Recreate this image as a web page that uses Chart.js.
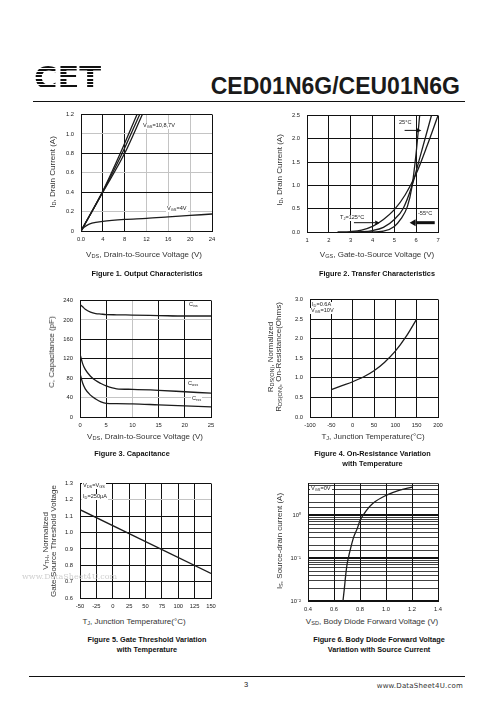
<!DOCTYPE html>
<html lang="en">
<head>
<meta charset="UTF-8">
<title>CED01N6G/CEU01N6G</title>
<script src="https://cdn.jsdelivr.net/npm/chart.js"></script>
<style>
  * { margin: 0; padding: 0; box-sizing: border-box; }
  html, body { width: 496px; height: 723px; background: #fff; overflow: hidden;
    font-family: 'Liberation Sans', Arial, sans-serif; color: #222; }
  .page { position: relative; width: 496px; height: 723px; }
  canvas { position: absolute; }
  .t { position: absolute; white-space: nowrap; line-height: 1; }
  .logo { left: 34px; top: 59px; font: bold 32px 'DejaVu Sans', sans-serif; color: transparent;
    background: repeating-linear-gradient(to bottom, #111 0 2px, transparent 2px 3.3px);
    -webkit-background-clip: text; background-clip: text; transform: scaleX(1.0); transform-origin: left top; }
  .title { right: 36px; top: 75px; font-size: 23px; font-weight: bold; color: #1a1a1a; }
  .rule { position: absolute; background: #111; }
  .xt { font-size: 8px; color: #333; transform: translate(-50%, -50%); }
  .yt { font-size: 8px; color: #333; transform: translate(-50%, -50%) rotate(-90deg); text-align: center; line-height: 8px; }
  .cap { font-size: 7.3px; font-weight: bold; color: #111; transform: translateX(-50%); text-align: center; line-height: 9.3px; }
  .note { font-size: 5.6px; background: #fff; padding: 0 1px; color: #222; }
  sub { font-size: 70%; vertical-align: -0.25em; line-height: 0; }
  .wm { font: 8px 'DejaVu Serif', serif; color: #cfcfcf; }
</style>
</head>
<body>
<div class="page">
  <div class="t logo">CET</div>
  <div class="t title">CED01N6G/CEU01N6G</div>
  <div class="rule" style="left:33px; top:100.5px; width:432px; height:1.3px"></div>

  <canvas id="fig1"></canvas>
  <canvas id="fig2"></canvas>
  <canvas id="fig3"></canvas>
  <canvas id="fig4"></canvas>
  <canvas id="fig5"></canvas>
  <canvas id="fig6"></canvas>

  <!-- Figure 1 -->
  <div class="t note" style="left:142px; top:123px">V<sub>GS</sub>=10,8,7V</div>
  <div class="t note" style="left:166px; top:206px">V<sub>GS</sub>=4V</div>
  <div class="t yt" style="left:53px; top:172px">I<sub>D</sub>, Drain Current (A)</div>
  <div class="t xt" style="left:144px; top:255px">V<sub>DS</sub>, Drain-to-Source Voltage (V)</div>
  <div class="t cap" style="left:147px; top:268.6px">Figure 1. Output Characteristics</div>

  <!-- Figure 2 -->
  <div class="t note" style="left:398px; top:119.5px">25°C</div>
  <div class="t note" style="left:339px; top:215px">T<sub>J</sub>=125°C</div>
  <div class="t note" style="left:417px; top:211px">-55°C</div>
  <div class="t yt" style="left:280px; top:170px">I<sub>D</sub>, Drain Current (A)</div>
  <div class="t xt" style="left:377px; top:255px">V<sub>GS</sub>, Gate-to-Source Voltage (V)</div>
  <div class="t cap" style="left:377px; top:268.6px">Figure 2. Transfer Characteristics</div>

  <!-- Figure 3 -->
  <div class="t note" style="left:188px; top:302px">C<sub>iss</sub></div>
  <div class="t note" style="left:187px; top:381px">C<sub>oss</sub></div>
  <div class="t note" style="left:191px; top:396px">C<sub>rss</sub></div>
  <div class="t yt" style="left:52px; top:352px">C, Capacitance (pF)</div>
  <div class="t xt" style="left:145px; top:437px">V<sub>DS</sub>, Drain-to-Source Voltage (V)</div>
  <div class="t cap" style="left:132px; top:449.4px">Figure 3. Capacitance</div>

  <!-- Figure 4 -->
  <div class="t note" style="left:311px; top:302px">I<sub>D</sub>=0.6A</div>
  <div class="t note" style="left:310px; top:308px">V<sub>GS</sub>=10V</div>
  <div class="t yt" style="left:275px; top:357px">R<sub>DS(ON)</sub>, Normalized<br>R<sub>DS(ON)</sub>, On-Resistance(Ohms)</div>
  <div class="t xt" style="left:373px; top:437px">T<sub>J</sub>, Junction Temperature(°C)</div>
  <div class="t cap" style="left:372.5px; top:449.4px">Figure 4. On-Resistance Variation<br>with Temperature</div>

  <!-- Figure 5 -->
  <div class="t wm" style="left:22px; top:572px">www.DataSheet4U.com</div>
  <div class="t note" style="left:82px; top:483px">V<sub>DS</sub>=V<sub>GS</sub></div>
  <div class="t note" style="left:82px; top:494px">I<sub>D</sub>=250µA</div>
  <div class="t yt" style="left:50px; top:541px">V<sub>TH</sub>, Normalized<br>Gate-Source Threshold Voltage</div>
  <div class="t xt" style="left:134px; top:622px">T<sub>J</sub>, Junction Temperature(°C)</div>
  <div class="t cap" style="left:147px; top:635.4px">Figure 5. Gate Threshold Variation<br>with Temperature</div>

  <!-- Figure 6 -->
  <div class="t note" style="left:310px; top:486px">V<sub>GS</sub>=0V</div>
  <div class="t yt" style="left:280px; top:541px">I<sub>S</sub>, Source-drain current (A)</div>
  <div class="t xt" style="left:372px; top:622px">V<sub>SD</sub>, Body Diode Forward Voltage (V)</div>
  <div class="t cap" style="left:379px; top:635.4px">Figure 6. Body Diode Forward Voltage<br>Variation with Source Current</div>

  <div class="rule" style="left:29px; top:675.5px; width:436px; height:1.3px"></div>
  <div class="t" style="left:244px; top:681px; font-size:7.5px">3</div>
  <div class="t" style="right:33px; top:682px; font: 7px 'DejaVu Sans', sans-serif; letter-spacing:0.2px; color:#333">www.DataSheet4U.com</div>
</div>

<script>
  // ---------- data ----------
  // Figure 1: output characteristics (VDS V, ID A)
  const f1Vds10 = [0, 3.9, 7.2, 10.26];
  const f1Id10  = [0, 0.4, 0.8, 1.2];
  const f1Vds8  = [0, 3.95, 7.55, 10.75];
  const f1Id8   = [0, 0.4, 0.8, 1.2];
  const f1Vds7  = [0, 4.0, 8.0, 11.24];
  const f1Id7   = [0, 0.4, 0.8, 1.2];
  const f1Vds4  = [0, 0.5, 1, 2, 4, 8, 12, 16, 20, 24];
  const f1Id4   = [0, 0.035, 0.055, 0.08, 0.1, 0.12, 0.13, 0.145, 0.16, 0.175];

  // Figure 2: transfer characteristics (VGS V, ID A)
  const f2Vgs125 = [2.4, 3.0, 3.5, 4.0, 4.5, 5.0, 5.5, 6.0, 6.5, 7.0];
  const f2Id125  = [0, 0.01, 0.04, 0.12, 0.27, 0.48, 0.8, 1.25, 1.85, 2.5];
  const f2Vgs25  = [3.0, 3.5, 4.0, 4.5, 5.0, 5.4, 5.8, 6.2, 6.7];
  const f2Id25   = [0, 0.005, 0.03, 0.1, 0.27, 0.5, 0.98, 1.65, 2.5];
  const f2Vgs55  = [3.8, 4.5, 5.0, 5.3, 5.6, 5.8, 6.0, 6.16];
  const f2Id55   = [0, 0.02, 0.12, 0.28, 0.55, 0.95, 1.7, 2.5];
  // arrows under the temperature labels: [from VGS, to VGS, at ID, weight]
  const f2Arrows = [[3.15, 4.33, 0.2, 1], [5.47, 6.24, 2.18, 1], [6.85, 5.7, 0.2, 3]];

  // Figure 3: capacitance (VDS V, C pF)
  const f3Vds  = [0, 0.5, 1, 2, 3, 4, 5, 7, 10, 15, 20, 25];
  const f3Ciss = [232, 227, 222, 216, 213, 212, 211, 210.5, 210, 209, 208, 208];
  const f3Coss = [130, 110, 98, 84, 75, 69, 64, 58, 57, 55, 52, 49];
  const f3Crss = [90, 70, 58, 45, 37, 31, 28, 27.5, 27, 25, 23, 21];

  // Figure 4: on-resistance vs temperature
  const f4Tj   = [-50, -25, 0, 25, 50, 75, 100, 125, 150];
  const f4Rds  = [0.7, 0.8, 0.9, 1.02, 1.18, 1.4, 1.68, 2.05, 2.5];

  // Figure 5: gate threshold vs temperature
  const f5Tj   = [-50, 150];
  const f5Vth  = [1.14, 0.75];

  // Figure 6: body diode forward voltage (VSD V, IS A)
  const f6Vsd  = [0.669, 0.68, 0.69, 0.70, 0.71, 0.73, 0.75, 0.78, 0.8, 0.85, 0.9, 1.0, 1.1, 1.2];
  const f6Is   = [0.01, 0.02, 0.04, 0.07, 0.1, 0.18, 0.3, 0.5, 0.75, 1.3, 1.9, 2.9, 3.8, 4.5];
  const f6Decades = [0.01, 0.1, 1];
  const f6DecadeLabels = ['10⁻²', '10⁻¹', '10⁰'];

  // ---------- helpers ----------
  const L = 36, T = 8, R = 14, B = 16;
  const tickFont = { family: 'Liberation Sans', size: 5.8 };
  const near = (a, b) => Math.abs(a - b) < 1e-6;

  function series(xs, ys) {
    return {
      data: xs.map((x, i) => ({ x: x, y: ys[i] })),
      borderColor: '#1c1c1c', borderWidth: 1.3,
      pointRadius: 0, fill: false, cubicInterpolationMode: 'monotone'
    };
  }

  // linear axis; grey = tick values whose grid line comes out faint on the scan
  function lin(min, max, step, fmt, grey, vertical) {
    return {
      type: 'linear', min: min, max: max,
      border: { color: '#111', width: 1 },
      grid: {
        drawTicks: false, lineWidth: 1,
        color: ctx => (grey || []).some(g => near(g, ctx.tick.value)) ? '#c4c4c4' : '#111'
      },
      ticks: { stepSize: step, font: tickFont, color: '#222', padding: vertical ? 7 : 5,
               callback: fmt || (v => String(v)) },
      afterFit: s => { if (vertical) s.width = L; else s.height = B; }
    };
  }

  function plot(id, box, x, y, sets, extra) {
    const cv = document.getElementById(id);
    cv.width = box[2] + L + R;
    cv.height = box[3] + T + B;
    cv.style.left = (box[0] - L) + 'px';
    cv.style.top = (box[1] - T) + 'px';
    return new Chart(cv, {
      type: 'line',
      data: { datasets: sets },
      options: {
        responsive: false, animation: false, devicePixelRatio: 1,
        layout: { padding: { top: T, right: R, left: 0, bottom: 0 } },
        scales: { x: x, y: y },
        plugins: { legend: { display: false }, tooltip: { enabled: false } }
      },
      plugins: extra || []
    });
  }

  const fix1 = v => v.toFixed(1);

  // Figure 1
  plot('fig1', [81, 112, 131, 119],
    lin(0, 24, 4, v => v === 0 ? '0.0' : String(v), [12, 16, 20]),
    lin(0, 1.2, 0.2, v => v === 0 ? '0' : v.toFixed(1), [0.2, 0.6, 1.0], true),
    [series(f1Vds10, f1Id10), series(f1Vds8, f1Id8), series(f1Vds7, f1Id7), series(f1Vds4, f1Id4)]);

  // Figure 2 with arrow marks
  const arrowPlugin = {
    id: 'arrows',
    afterDatasetsDraw(chart) {
      const c = chart.ctx, sx = chart.scales.x, sy = chart.scales.y;
      c.save();
      c.strokeStyle = '#111'; c.fillStyle = '#111';
      f2Arrows.forEach(a => {
        const x0 = sx.getPixelForValue(a[0]), x1 = sx.getPixelForValue(a[1]);
        const yy = sy.getPixelForValue(a[2]);
        const dir = Math.sign(x1 - x0), head = a[3] > 1 ? 6 : 4.5, hw = a[3] > 1 ? 3.5 : 2.2;
        c.lineWidth = a[3];
        c.beginPath(); c.moveTo(x0, yy); c.lineTo(x1 - dir * head, yy); c.stroke();
        c.beginPath(); c.moveTo(x1, yy); c.lineTo(x1 - dir * head, yy - hw);
        c.lineTo(x1 - dir * head, yy + hw); c.closePath(); c.fill();
      });
      c.restore();
    }
  };
  plot('fig2', [307, 113, 131, 119],
    lin(1, 7, 1),
    lin(0, 2.5, 0.5, fix1, [], true),
    [series(f2Vgs125, f2Id125), series(f2Vgs25, f2Id25), series(f2Vgs55, f2Id55)],
    [arrowPlugin]);

  // Figure 3
  plot('fig3', [80, 298, 131, 119],
    lin(0, 25, 5, null, [10]),
    lin(0, 240, 40, null, [40, 200], true),
    [series(f3Vds, f3Ciss), series(f3Vds, f3Coss), series(f3Vds, f3Crss)]);

  // Figure 4
  plot('fig4', [310, 297, 128, 120],
    lin(-100, 200, 50),
    lin(0, 3, 0.5, fix1, [], true),
    [series(f4Tj, f4Rds)]);

  // Figure 5
  plot('fig5', [80, 481, 131, 117],
    lin(-50, 150, 25),
    lin(0.6, 1.3, 0.1, fix1, [1.2], true),
    [series(f5Tj, f5Vth)]);

  // Figure 6, log current axis
  const f6y = {
    type: 'logarithmic', min: 0.01, max: 5.5,
    border: { color: '#111', width: 1 },
    grid: {
      drawTicks: false, color: '#111',
      lineWidth: ctx => f6Decades.some(d => near(Math.log10(d), Math.log10(ctx.tick.value))) ? 2 : 0.8
    },
    ticks: {
      autoSkip: false, font: tickFont, color: '#222', padding: 7,
      callback: v => {
        const i = f6Decades.findIndex(d => near(Math.log10(d), Math.log10(v)));
        return i < 0 ? '' : f6DecadeLabels[i];
      }
    },
    afterFit: s => { s.width = L; }
  };
  plot('fig6', [308, 481, 130, 120],
    lin(0.4, 1.4, 0.2, fix1),
    f6y,
    [series(f6Vsd, f6Is)]);
</script>
</body>
</html>
